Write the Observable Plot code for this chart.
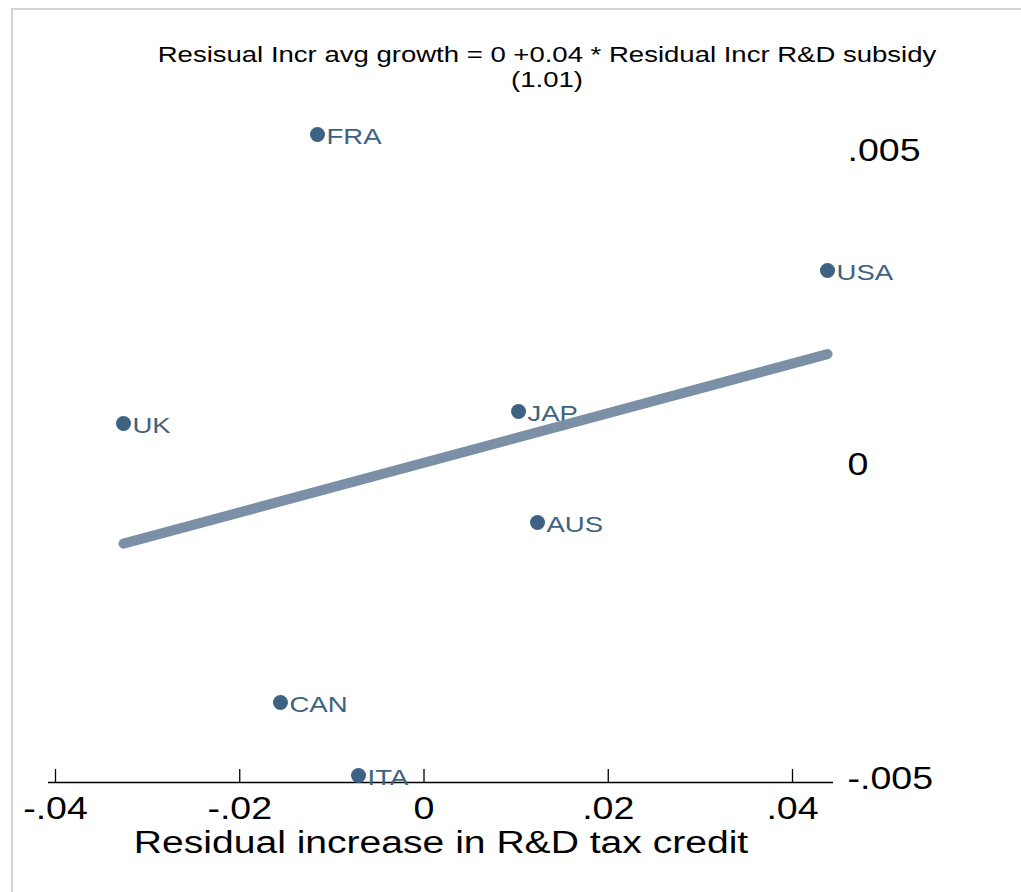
<!DOCTYPE html>
<html>
<head>
<meta charset="utf-8">
<script src="https://cdn.jsdelivr.net/npm/d3@7"></script>
<script src="https://cdn.jsdelivr.net/npm/@observablehq/plot@0.6"></script>
<style>
  html, body { margin: 0; padding: 0; background: #fff; }
  #wrap { position: relative; width: 1021px; height: 892px; overflow: hidden; background: #fff; }
  #frame { position: absolute; left: 11px; top: 8px; right: -5px; bottom: -5px;
           border-left: 2px solid #cbd5e0; border-top: 2px solid #cbd5e0; pointer-events: none; }
  #title { position: absolute; left: 0; top: 43px; width: 1094px; text-align: center;
           font-family: "Liberation Sans", Arial, sans-serif; font-size: 21.5px; line-height: 25px;
           color: #000; transform: scaleX(1.28); transform-origin: 547px 0; white-space: nowrap; }
  #chart { position: absolute; left: 0; top: 0; }
</style>
</head>
<body>
<div id="wrap">
  <div id="chart"></div>
  <div id="title"></div>
  <div id="frame"></div>
</div>
<script>
// ---- data ----
const countries = ["FRA", "USA", "UK", "JAP", "AUS", "CAN", "ITA"];
const taxCredit = [-0.01156, 0.0438, -0.03262, 0.01026, 0.01232, -0.01558, -0.00711];
const avgGrowth = [0.005271, 0.003105, 0.000669, 0.00086, -0.000908, -0.003774, -0.004936];
const xTicks = [-0.04, -0.02, 0, 0.02, 0.04];
const yTicks = [-0.005, 0, 0.005];
const titleLines = ["Resisual Incr avg growth = 0 +0.04 * Residual Incr R&D subsidy", "(1.01)"];
const xLabel = "Residual increase in R&D tax credit";
const xDomain = [-0.04076, 0.04445];
const yDomain = [-0.005048, 0.005812];

const points = countries.map((c, i) => ({name: c, x: taxCredit[i], y: avgGrowth[i]}));
const fmt = d => d === 0 ? "0" : (d < 0 ? "-" : "") + String(Math.abs(d)).replace(/^0/, "");

document.getElementById("title").innerHTML = titleLines.join("<br>");

const navy = "#3d6282";
const chart = Plot.plot({
  width: 1021,
  height: 892,
  marginLeft: 48,
  marginRight: 188,
  marginTop: 100,
  marginBottom: 110,
  style: {fontFamily: "'Liberation Sans', Arial, sans-serif", background: "transparent", color: "#000"},
  x: {domain: xDomain, ticks: xTicks, tickFormat: fmt},
  y: {domain: yDomain, ticks: yTicks, tickFormat: fmt},
  marks: [
    Plot.ruleY([yDomain[0]], {stroke: "#000", strokeWidth: 1.5}),
    Plot.axisX({ticks: xTicks, tickFormat: fmt, tickSize: -13, tickPadding: 27, fontSize: 31, label: null, stroke: "#000", strokeWidth: 1.3}),
    Plot.axisY({anchor: "right", ticks: yTicks, tickFormat: fmt, tickSize: 0, tickPadding: 14, fontSize: 31, label: null}),
    Plot.text([xLabel], {text: d => d, frameAnchor: "bottom", dy: 48, lineAnchor: "top", fontSize: 31, fill: "#000"}),
    Plot.dot(points, {x: "x", y: "y", r: 7.5, fill: navy, stroke: "none"}),
    Plot.text(points, {x: "x", y: "y", text: "name", textAnchor: "start", dx: 9, dy: 2, fontSize: 22, fill: navy}),
    Plot.linearRegressionY(points, {x: "x", y: "y", ci: 0, stroke: "#7b8fa7", strokeWidth: 10, strokeLinecap: "round"})
  ]
});
document.getElementById("chart").appendChild(chart);

// Horizontal stretch of glyphs, as in the reference rendering
function stretch(nodes, k) {
  nodes.forEach(t => {
    const L = t.getComputedTextLength();
    t.setAttribute("textLength", (L * k).toFixed(1));
    t.setAttribute("lengthAdjust", "spacingAndGlyphs");
  });
}
const svg = d3.select(chart.tagName.toLowerCase() === "svg" ? chart : chart.querySelector("svg"));
stretch(svg.selectAll("g[aria-label='x-axis tick label'] text").nodes(), 1.21);
stretch(svg.selectAll("g[aria-label='y-axis tick label'] text").nodes(), 1.21);
const textGroups = svg.selectAll("g[aria-label='text']").nodes();
stretch(d3.select(textGroups[0]).selectAll("text").nodes(), 1.26);
stretch(d3.select(textGroups[1]).selectAll("text").nodes(), 1.25);
</script>
</body>
</html>
